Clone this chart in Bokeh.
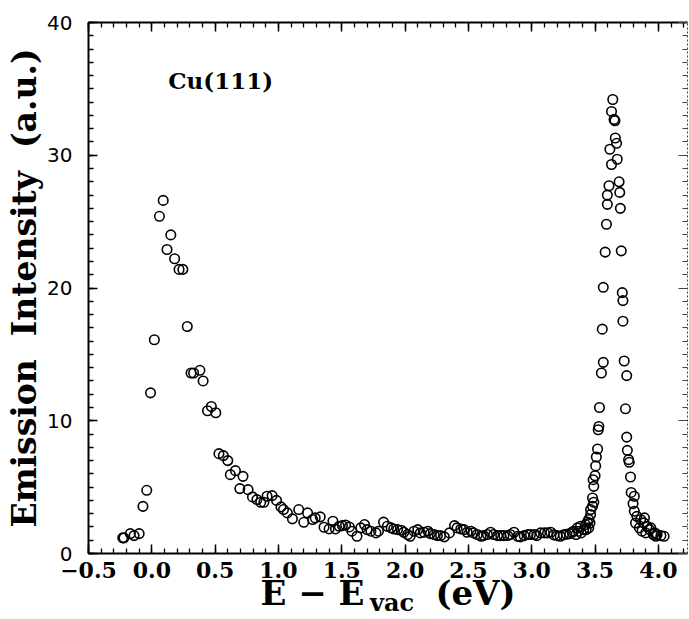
from bokeh.plotting import figure
from bokeh.models import (Range1d, LinearAxis, SingleIntervalTicker,
                          NumeralTickFormatter, CustomJSTickFormatter, Label)
from bokeh.embed import file_html
from bokeh.resources import INLINE

# ---- data ----
energy_ev = [
    -0.23, -0.22, -0.17, -0.14, -0.10, -0.07, -0.04, -0.01, 0.02, 0.06,
    0.09, 0.12, 0.15, 0.18, 0.215, 0.245, 0.28, 0.31, 0.33, 0.38,
    0.405, 0.44, 0.47, 0.505, 0.53, 0.565, 0.60, 0.62, 0.66, 0.695,
    0.72, 0.76, 0.795, 0.83, 0.86, 0.885, 0.91, 0.95, 0.985, 1.02,
    1.04, 1.07, 1.11, 1.16, 1.20, 1.23, 1.27, 1.29, 1.33, 1.36,
    1.40, 1.43, 1.45, 1.48, 1.505, 1.53, 1.56, 1.58, 1.62, 1.65,
    1.68, 1.70, 1.73, 1.77, 1.79, 1.83, 1.86, 1.89, 1.91, 1.94,
    1.97, 1.99, 2.02, 2.04, 2.07, 2.10, 2.12, 2.15, 2.18, 2.20,
    2.23, 2.255, 2.28, 2.31, 2.35, 2.39, 2.41, 2.44, 2.465, 2.49,
    2.52, 2.54, 2.57, 2.60, 2.62, 2.65, 2.675, 2.70, 2.73, 2.755,
    2.78, 2.81, 2.83, 2.86, 2.89, 2.91, 2.94, 2.97, 2.99, 3.02,
    3.04, 3.07, 3.10, 3.125, 3.15, 3.175, 3.20, 3.225, 3.25, 3.275,
    3.30, 3.32, 3.33, 3.35, 3.36, 3.37, 3.385, 3.39, 3.41, 3.425,
    3.43, 3.44, 3.45, 3.45, 3.46, 3.465, 3.465, 3.48, 3.48, 3.485,
    3.49, 3.49, 3.50, 3.505, 3.51, 3.52, 3.525, 3.53, 3.535, 3.55,
    3.557, 3.565, 3.565, 3.58, 3.59, 3.597, 3.597, 3.61, 3.617, 3.63,
    3.63, 3.64, 3.65, 3.657, 3.66, 3.67, 3.675, 3.69, 3.695, 3.70,
    3.707, 3.715, 3.72, 3.72, 3.73, 3.74, 3.75, 3.75, 3.755, 3.765,
    3.77, 3.78, 3.785, 3.80, 3.81, 3.81, 3.82, 3.83, 3.85, 3.86,
    3.87, 3.885, 3.89, 3.90, 3.91, 3.93, 3.94, 3.96, 3.97, 3.98,
    3.99, 4.02, 4.045,
]
intensity_au = [
    1.18, 1.18, 1.50, 1.35, 1.50, 3.55, 4.76, 12.1, 16.1, 25.4,
    26.6, 22.9, 24.0, 22.2, 21.4, 21.4, 17.1, 13.6, 13.6, 13.8,
    13.0, 10.75, 11.07, 10.6, 7.52, 7.37, 7.0, 5.94, 6.24, 4.89,
    5.81, 4.81, 4.26, 4.06, 3.86, 3.86, 4.31, 4.36, 4.0, 3.51,
    3.31, 3.06, 2.61, 3.31, 2.35, 3.06, 2.56, 2.68, 2.76, 1.98,
    1.85, 2.43, 1.85, 2.05, 2.10, 2.15, 2.00, 1.68, 1.30, 1.93,
    2.18, 1.80, 1.68, 1.55, 1.68, 2.36, 2.05, 1.93, 1.85, 1.80,
    1.75, 1.60, 1.43, 1.30, 1.68, 1.80, 1.55, 1.60, 1.68, 1.50,
    1.43, 1.35, 1.35, 1.25, 1.55, 2.10, 1.93, 1.85, 1.80, 1.60,
    1.68, 1.55, 1.43, 1.30, 1.35, 1.43, 1.60, 1.43, 1.35, 1.35,
    1.35, 1.35, 1.43, 1.60, 1.30, 1.25, 1.35, 1.43, 1.43, 1.43,
    1.35, 1.55, 1.55, 1.55, 1.60, 1.40, 1.35, 1.30, 1.40, 1.45,
    1.50, 1.60, 1.68, 1.43, 1.93, 1.68, 2.05, 1.55, 1.80, 2.18,
    1.80, 2.36, 2.56, 1.93, 2.30, 2.93, 3.31, 3.56, 4.18, 5.56,
    3.86, 5.06, 5.86, 6.60, 7.27, 7.87, 9.32, 9.57, 11.0, 13.6,
    16.9, 14.4, 20.05, 22.7, 24.8, 26.3, 27.0, 27.7, 30.45, 29.3,
    33.3, 34.2, 32.7, 32.6, 31.3, 30.9, 29.7, 28.0, 27.2, 26.0,
    22.8, 19.65, 19.05, 17.5, 14.5, 10.9, 13.4, 8.77, 7.77, 7.07,
    6.87, 5.76, 4.60, 3.76, 4.31, 3.18, 2.30, 2.80, 1.93, 2.56,
    1.68, 2.31, 2.68, 1.55, 2.05, 1.80, 1.93, 1.43, 1.56, 1.30,
    1.43, 1.35, 1.30,
]

x_limits = (-0.5, 4.23)
y_limits = (0, 40)
x_major_step = 0.5
y_major_step = 10
sample_label = "Cu(111)"
y_title = "Emission\u00a0\u00a0Intensity\u00a0\u00a0(a.u.)"
x_title_main = "E \u2212 E" + "\u00a0" * 6 + "(eV)"
x_title_sub = "\u00a0vac"

SERIF = "DejaVu Serif"

p = figure(width=689, height=619, output_backend="svg", toolbar_location=None,
           x_range=Range1d(*x_limits), y_range=Range1d(*y_limits),
           x_axis_location=None, y_axis_location=None,
           min_border_left=88, min_border_right=2,
           min_border_top=22, min_border_bottom=65)
p.grid.visible = False
p.outline_line_color = None
p.background_fill_color = "white"
p.border_fill_color = "white"


def style_axis(ax, hidden_labels=False, dashed=False):
    ax.major_tick_in = 9
    ax.major_tick_out = 0
    ax.minor_tick_in = 5
    ax.minor_tick_out = 0
    ax.major_tick_line_width = 1.5
    ax.minor_tick_line_width = 1.3
    ax.major_tick_line_color = "black"
    ax.minor_tick_line_color = "black"
    ax.axis_line_color = "black"
    ax.axis_line_width = 2
    if dashed:
        ax.axis_line_width = 1
        ax.axis_line_dash = "2 2"
        ax.axis_line_color = "#444444"
        ax.major_tick_line_color = "#444444"
        ax.minor_tick_line_color = "#444444"
        ax.major_tick_line_width = 1
        ax.minor_tick_line_width = 1
    if hidden_labels:
        ax.formatter = CustomJSTickFormatter(code="return ''")
        ax.major_label_text_font_size = "0px"
        ax.major_label_standoff = 0


def xtick():
    return SingleIntervalTicker(interval=x_major_step, num_minor_ticks=5)


def ytick():
    return SingleIntervalTicker(interval=y_major_step, num_minor_ticks=10)


# bottom axis with tick labels and main part of the title
bottom = LinearAxis(
    ticker=xtick(),
    formatter=CustomJSTickFormatter(
        code="return tick.toFixed(1).replace('-', '\\u2212');"))
style_axis(bottom)
bottom.major_label_text_font = SERIF
bottom.major_label_text_font_style = "bold"
bottom.major_label_text_font_size = "22px"
bottom.major_label_text_color = "black"
bottom.major_label_standoff = 8
bottom.axis_label = x_title_main
bottom.axis_label_text_font = SERIF
bottom.axis_label_text_font_style = "bold"
bottom.axis_label_text_font_size = "34px"
bottom.axis_label_text_color = "black"
bottom.axis_label_standoff = -8
p.add_layout(bottom, "below")

# second (invisible) bottom axis that carries the subscript "vac"
sub = LinearAxis(ticker=xtick())
sub.major_tick_in = 0
sub.major_tick_out = 0
sub.minor_tick_in = 0
sub.minor_tick_out = 0
sub.axis_line_color = None
sub.major_tick_line_color = None
sub.minor_tick_line_color = None
sub.formatter = CustomJSTickFormatter(code="return ''")
sub.major_label_text_font_size = "0px"
sub.major_label_standoff = 0
sub.axis_label = x_title_sub
sub.axis_label_text_font = SERIF
sub.axis_label_text_font_style = "bold"
sub.axis_label_text_font_size = "24px"
sub.axis_label_text_color = "black"
sub.axis_label_standoff = -28
p.add_layout(sub, "below")

left = LinearAxis(ticker=ytick(), formatter=NumeralTickFormatter(format="0"))
style_axis(left)
left.major_label_text_font = "DejaVu Sans"
left.major_label_text_font_size = "20px"
left.major_label_text_color = "black"
left.major_label_standoff = 16
left.axis_label = y_title
left.axis_label_text_font = SERIF
left.axis_label_text_font_style = "bold"
left.axis_label_text_font_size = "33px"
left.axis_label_text_color = "black"
left.axis_label_standoff = 0
p.add_layout(left, "left")

top = LinearAxis(ticker=xtick())
style_axis(top, hidden_labels=True)
p.add_layout(top, "above")

right = LinearAxis(ticker=ytick())
style_axis(right, hidden_labels=True, dashed=True)
p.add_layout(right, "right")

p.scatter(energy_ev, intensity_au, marker="circle", size=9.5,
          fill_alpha=0, line_color="black", line_width=1.6)

# in-plot sample label
p.add_layout(Label(x=0.13, y=35.6, text=sample_label,
                   text_font=SERIF, text_font_style="bold",
                   text_font_size="23px",
                   text_color="black", text_baseline="alphabetic"))

open("out.html", "w").write(file_html(p, INLINE))
